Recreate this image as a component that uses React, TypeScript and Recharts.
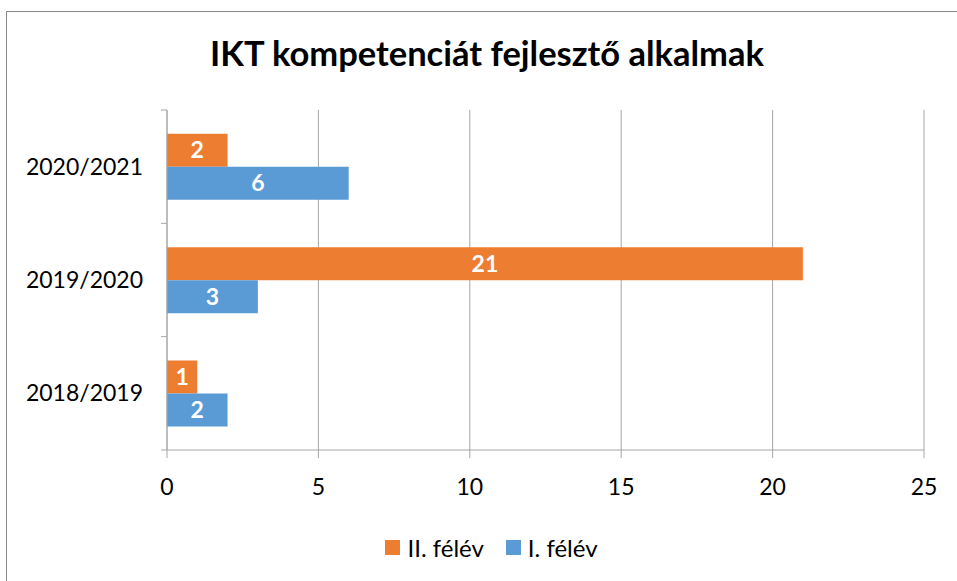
import React from "react"
import {
  BarChart,
  Bar,
  XAxis,
  YAxis,
  CartesianGrid,
  Legend,
  LabelList,
} from "recharts"

const categories = ["2020/2021", "2019/2020", "2018/2019"]
const secondTerm = [2, 21, 1]
const firstTerm = [6, 3, 2]
const xTicks = [0, 5, 10, 15, 20, 25]

const SERIES = [
  { key: "second", name: "II. félév", color: "#ED7D31" },
  { key: "first", name: "I. félév", color: "#5B9BD5" },
]

const FONT = "Lato, 'Open Sans', sans-serif"
const AXIS_COLOR = "#A6A6A6"

const chartData = categories.map((cat, i) => ({
  cat,
  second: secondTerm[i],
  first: firstTerm[i],
}))

function CategoryTick(props: any) {
  const { x, y, payload, index, visibleTicksCount } = props
  const half = payload?.offset ?? 0
  const axisX = x + 24
  return (
    <g>
      <line x1={axisX - 6} x2={axisX} y1={y - half} y2={y - half} stroke={AXIS_COLOR} />
      {index === (visibleTicksCount ?? categories.length) - 1 && (
        <line x1={axisX - 6} x2={axisX} y1={y + half} y2={y + half} stroke={AXIS_COLOR} />
      )}
      <text x={x} y={y} dy={8} textAnchor="end" fill="#000" fontSize={23} fontFamily={FONT}>
        {payload.value}
      </text>
    </g>
  )
}

function LegendContent() {
  return (
    <div
      style={{
        display: "flex",
        justifyContent: "center",
        paddingLeft: 26,
        fontFamily: FONT,
        fontSize: 24,
        color: "#000",
      }}
    >
      {SERIES.map((s) => (
        <div key={s.key} style={{ display: "flex", alignItems: "center", margin: "0 11px" }}>
          <span style={{ width: 15, height: 15, background: s.color, marginRight: 7, display: "inline-block" }} />
          <span>{s.name}</span>
        </div>
      ))}
    </div>
  )
}

export default function App() {
  return (
    <div style={{ position: "absolute", left: 0, top: 0, width: 957, height: 581, background: "#fff" }}>
      <div
        style={{
          position: "absolute",
          left: 6,
          top: 11,
          width: 960,
          height: 580,
          borderLeft: "1px solid #898989",
          borderTop: "1px solid #898989",
        }}
      />
      <div
        style={{
          position: "absolute",
          left: 0,
          top: 32,
          width: 974,
          textAlign: "center",
          fontFamily: FONT,
          fontWeight: 700,
          fontSize: 34.5,
          color: "#000",
        }}
      >
        IKT kompetenciát fejlesztő alkalmak
      </div>
      <BarChart
        width={957}
        height={581}
        data={chartData}
        layout="vertical"
        margin={{ top: 110, right: 33, left: 0, bottom: 42 }}
        barCategoryGap="21%"
        barGap={0}
      >
        <CartesianGrid horizontal={false} stroke={AXIS_COLOR} />
        <XAxis
          type="number"
          domain={[0, 25]}
          ticks={xTicks}
          tickSize={8}
          tickMargin={21}
          stroke={AXIS_COLOR}
          tick={{ fill: "#000", fontSize: 23, fontFamily: FONT }}
          height={60}
        />
        <YAxis
          type="category"
          dataKey="cat"
          width={167}
          tickLine={false}
          tickSize={0}
          tickMargin={24}
          stroke={AXIS_COLOR}
          tick={<CategoryTick />}
        />
        <Legend
          content={<LegendContent />}
          wrapperStyle={{ position: "absolute", top: 533, left: 0, width: 957 }}
        />
        {SERIES.map((s) => (
          <Bar key={s.key} dataKey={s.key} name={s.name} fill={s.color} isAnimationActive={false}>
            <LabelList
              dataKey={s.key}
              position="center"
              fill="#fff"
              fontWeight={700}
              fontSize={23}
              fontFamily={FONT}
            />
          </Bar>
        ))}
      </BarChart>
    </div>
  )
}
